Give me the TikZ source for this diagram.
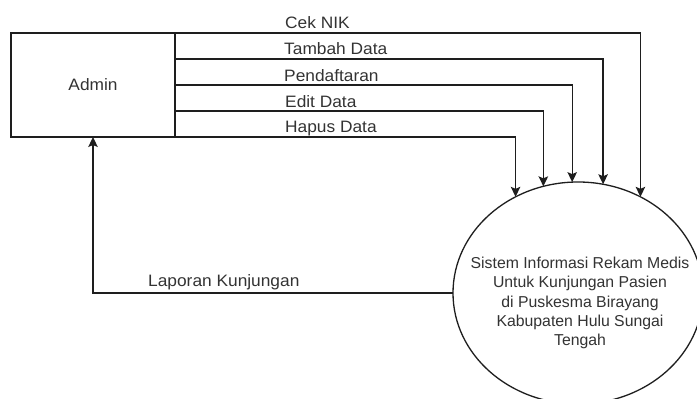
\documentclass[tikz,border=0pt]{standalone}
\usepackage{fontspec}
\setmainfont{Liberation Sans}
\newfontfamily\labelfont[FakeStretch=1.05]{Liberation Sans}
\usetikzlibrary{arrows.meta,shapes.geometric,calc}
\definecolor{ink}{HTML}{1E1E1E}
\definecolor{txt}{HTML}{333333}
\begin{document}
\begin{tikzpicture}[x=1pt,y=-1pt,
  flow/.style={draw=ink,line width=1.3pt,-{Stealth[length=10pt,width=9.5pt,inset=2pt]}},
  lbl/.style={text=txt,font=\labelfont\fontsize{16.5}{18}\selectfont,inner sep=0pt,anchor=base west},
  entity/.style={draw=ink,line width=1.3pt,minimum width=164pt,minimum height=104pt,outer sep=0pt,
    text=txt,font=\labelfont\fontsize{16.5}{18}\selectfont},
  process/.style={draw=ink,line width=1.3pt,ellipse,minimum width=250pt,minimum height=222pt,
    outer sep=0pt,inner sep=0pt},
  proctext/.style={align=center,text=txt,inner sep=0pt,font=\fontsize{15.8}{19.1}\selectfont}]
\useasboundingbox[fill=white] (0,0) rectangle (697,399);

\node[entity] (admin) at (93,85) {Admin};
\node[process] (sys) at (578,293) {};
\node[proctext] (systext) at ($(sys.center)+(2,10)$) {Sistem Informasi Rekam Medis\\Untuk Kunjungan Pasien\\di Puskesma Birayang\\Kabupaten Hulu Sungai\\Tengah};

% data flows from Admin into the system
\draw[flow] (admin.north east) -| (sys.57.8);
\draw[flow] ($(admin.north east)!0.25!(admin.south east)$) -| (sys.77.1);
\draw[flow] (admin.east) -| (sys.93.6);
\draw[flow] ($(admin.north east)!0.75!(admin.south east)$) -| (sys.108.2);
\draw[flow] (admin.south east) -| (sys.123.9);

% report back to Admin
\draw[flow] (sys.west) -| (admin.south);

\node[lbl] (l1) at (285,28) {Cek NIK};
\node[lbl] (l2) at (284,54.5) {Tambah Data};
\node[lbl] (l3) at (284,81) {Pendaftaran};
\node[lbl] (l4) at (285,107) {Edit Data};
\node[lbl] (l5) at (285,132.5) {Hapus Data};
\node[lbl] (l6) at (148,286) {Laporan Kunjungan};
\end{tikzpicture}
\end{document}
